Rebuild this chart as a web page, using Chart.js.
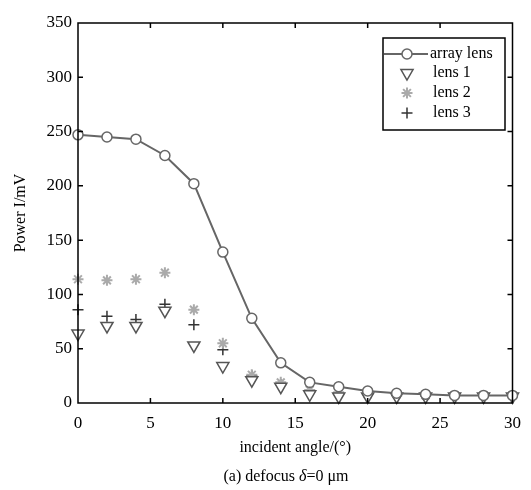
<!DOCTYPE html>
<html>
<head>
<meta charset="utf-8">
<script src="https://cdn.jsdelivr.net/npm/chart.js@4"></script>
<style>
  html, body { margin: 0; padding: 0; background: #fff; }
  #wrap { width: 531px; height: 490px; }
</style>
</head>
<body>
<div id="wrap"><canvas id="chart" width="531" height="490"></canvas></div>
<script>
    const angles = [0, 2, 4, 6, 8, 10, 12, 14, 16, 18, 20, 22, 24, 26, 28, 30];
    const arrayLens = [247, 245, 243, 228, 202, 139, 78, 37, 19, 15, 11, 9, 8, 7, 7, 7];
    const lens1 = [64, 71, 71, 85, 53, 34, 21, 15, 8, 6, 6, 6, 6, 6, 6, 6];
    const lens2 = [114, 113, 114, 120, 86, 55, 26, 19, 12, 10, 8, 8, 7, 7, 7, 7];
    const lens3 = [86, 80, 77, 91, 72, 49, 25, 17, 10, 9, 8, 7, 7, 7, 7, 7];
    const xTicks = [0, 5, 10, 15, 20, 25, 30];
    const yTicks = [0, 50, 100, 150, 200, 250, 300, 350];

    const FONT = "'Liberation Serif', 'DejaVu Serif', serif";
    const pts = arr => arr.map((v, i) => ({ x: angles[i], y: v }));

    // box, inward ticks on all four sides, legend and caption
    const decor = {
      id: 'decor',
      afterDraw(chart) {
        const ctx = chart.ctx;
        const a = chart.chartArea;
        const xs = chart.scales.x, ys = chart.scales.y;
        ctx.save();
        ctx.strokeStyle = '#000';
        ctx.lineWidth = 1.5;
        ctx.strokeRect(a.left, a.top, a.right - a.left, a.bottom - a.top);
        ctx.beginPath();
        xTicks.slice(1, -1).forEach(t => {
          const px = xs.getPixelForValue(t);
          ctx.moveTo(px, a.bottom); ctx.lineTo(px, a.bottom - 5);
          ctx.moveTo(px, a.top); ctx.lineTo(px, a.top + 5);
        });
        yTicks.slice(1, -1).forEach(t => {
          const py = ys.getPixelForValue(t);
          ctx.moveTo(a.left, py); ctx.lineTo(a.left + 5, py);
          ctx.moveTo(a.right, py); ctx.lineTo(a.right - 5, py);
        });
        ctx.stroke();

        // legend
        const lx = 383, ly = 38, lw = 122, lh = 92;
        ctx.fillStyle = '#fff';
        ctx.fillRect(lx, ly, lw, lh);
        ctx.strokeRect(lx, ly, lw, lh);
        ctx.font = '16px ' + FONT;
        ctx.textBaseline = 'middle';
        ctx.textAlign = 'left';
        const rows = [54, 73, 93, 113];
        chart.data.datasets.forEach((ds, i) => {
          const y = rows[i];
          const cx = 407;
          if (ds.showLine) {
            ctx.strokeStyle = ds.borderColor;
            ctx.lineWidth = 2;
            ctx.beginPath(); ctx.moveTo(lx + 1, y); ctx.lineTo(428, y); ctx.stroke();
          }
          ctx.fillStyle = ds.pointBackgroundColor;
          ctx.strokeStyle = ds.pointBorderColor;
          ctx.lineWidth = ds.pointBorderWidth;
          Chart.helpers.drawPoint(ctx, {
            pointStyle: ds.pointStyle,
            rotation: ds.pointRotation || 0,
            radius: ds.pointRadius,
            borderWidth: ds.pointBorderWidth
          }, cx, y);
          ctx.fillStyle = '#000';
          ctx.fillText(ds.label, i === 0 ? 430 : 433, y);
        });

        // caption
        const parts = [
          ['(a) defocus ', '16px ' + FONT],
          ['\u03b4', 'italic 16px ' + FONT],
          ['=0 \u03bcm', '16px ' + FONT]
        ];
        let total = 0;
        parts.forEach(p => { ctx.font = p[1]; total += ctx.measureText(p[0]).width; });
        let x = 286 - total / 2;
        ctx.fillStyle = '#000';
        parts.forEach(p => {
          ctx.font = p[1];
          ctx.fillText(p[0], x, 477);
          x += ctx.measureText(p[0]).width;
        });
        ctx.restore();
      }
    };

    new Chart(document.getElementById('chart'), {
      type: 'scatter',
      data: {
        datasets: [{
          label: 'array lens',
          data: pts(arrayLens),
          showLine: true,
          borderColor: '#666',
          borderWidth: 2,
          pointStyle: 'circle',
          pointRadius: 5,
          pointBorderWidth: 1.5,
          pointBorderColor: '#666',
          pointBackgroundColor: '#fff',
          clip: false
        }, {
          label: 'lens 1',
          data: pts(lens1),
          showLine: false,
          pointStyle: 'triangle',
          pointRotation: 180,
          pointRadius: 7,
          pointBorderWidth: 1.5,
          pointBorderColor: '#555',
          pointBackgroundColor: '#fff',
          clip: false
        }, {
          label: 'lens 2',
          data: pts(lens2),
          showLine: false,
          pointStyle: 'star',
          pointRadius: 5.5,
          pointBorderWidth: 2,
          pointBorderColor: '#aaa',
          pointBackgroundColor: '#aaa',
          clip: false
        }, {
          label: 'lens 3',
          data: pts(lens3),
          showLine: false,
          pointStyle: 'cross',
          pointRadius: 5.5,
          pointBorderWidth: 1.5,
          pointBorderColor: '#333',
          pointBackgroundColor: '#333',
          clip: false
        }]
      },
      options: {
        responsive: false,
        animation: false,
        layout: { padding: { left: 0, right: 9, top: 23, bottom: 29 } },
        plugins: {
          legend: { display: false },
          tooltip: { enabled: false }
        },
        scales: {
          x: {
            type: 'linear',
            min: 0,
            max: 30,
            afterBuildTicks: s => { s.ticks = xTicks.map(v => ({ value: v })); },
            afterFit: s => { s.height = 58; },
            grid: { display: false, drawTicks: false },
            border: { display: false },
            ticks: { padding: 10, color: '#000', font: { family: FONT, size: 17 } },
            title: {
              display: true,
              text: 'incident angle/(\u00b0)',
              color: '#000',
              font: { family: FONT, size: 16 },
              padding: { top: 4, bottom: 4 }
            }
          },
          y: {
            min: 0,
            max: 350,
            afterBuildTicks: s => { s.ticks = yTicks.map(v => ({ value: v })); },
            afterFit: s => { s.width = 78; },
            grid: { display: false, drawTicks: false },
            border: { display: false },
            ticks: { padding: 6, color: '#000', font: { family: FONT, size: 17 } },
            title: {
              display: true,
              text: 'Power I/mV',
              color: '#000',
              font: { family: FONT, size: 16 },
              padding: { top: 11, bottom: 0 }
            }
          }
        }
      },
      plugins: [decor]
    });
</script>
</body>
</html>
